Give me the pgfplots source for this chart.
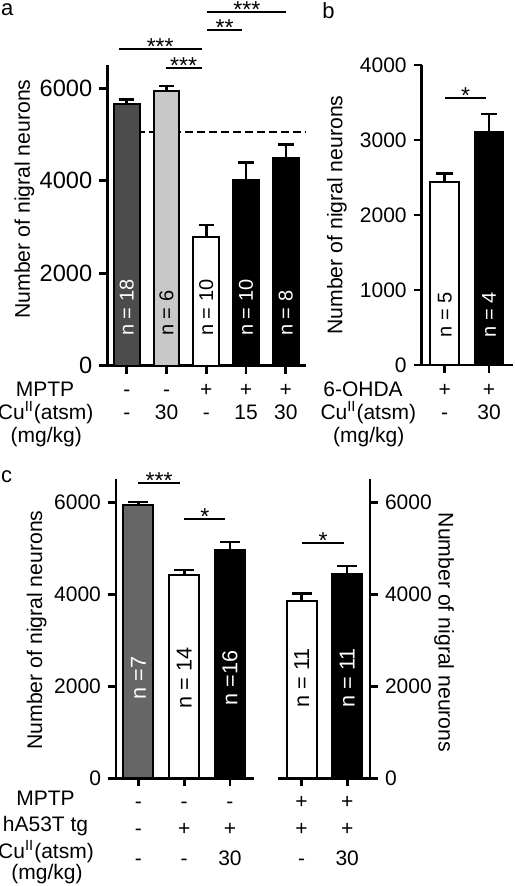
\documentclass[border=0pt]{standalone}
\usepackage{pgfplots}
\pgfplotsset{compat=1.18}
\usepackage{fontspec}
\setmainfont{Liberation Sans}

\definecolor{darkg}{HTML}{4C4C4C}
\definecolor{lightg}{HTML}{C8C8C8}
\definecolor{midg}{HTML}{666666}

\newcommand{\tf}{\fontsize{10.5}{12}\selectfont}
\newcommand{\nf}{\fontsize{10}{12}\selectfont}
\newcommand{\starf}{\fontsize{11.5}{12}\selectfont}

\tikzset{rowtxt/.style={anchor=base, font=\tf, inner sep=0pt, yshift=#1}}

\pgfplotsset{
  panel/.style={
    scale only axis,
    axis x line*=bottom,
    axis y line*=left,
    axis line style={-, line width=1.35pt},
    every tick/.style={black, line width=1.35pt},
    tick align=outside,
    major tick length=4pt,
    ymin=0,
    xticklabels={},
    clip=false,
    /pgf/number format/assume math mode=true,
    /pgf/number format/1000 sep={},
    tick label style={font=\tf},
  },
  bstyle/.style={
    ybar, bar shift=0pt, draw=black, line width=1pt,
    /pgfplots/error bars/y dir=plus,
    /pgfplots/error bars/y explicit,
    /pgfplots/error bars/error bar style={line width=1.3pt, black},
    /pgfplots/error bars/error mark options={rotate=90, line width=1.3pt, black, mark size=#1},
  },
  bstyle/.default=3.85pt,
}

\begin{document}
\begin{tikzpicture}
\useasboundingbox (0,0) rectangle (257pt,-443pt);

% ---------------- panel a ----------------
\begin{axis}[panel, at={(53.65pt,-182.85pt)}, anchor=south west,
  width=99.4pt, height=150.3pt, xmin=-0.49, xmax=4.51, ymax=6500,
  xtick={0,1,2,3,4}, ytick={0,2000,4000,6000},
  tick label style={font=\fontsize{11.8}{13}\selectfont}]
\addplot[black, line width=1pt, dash pattern=on 4pt off 2pt] coordinates {(-0.35,5060) (4.51,5060)};
\addplot[fill=darkg, bar width=12.85pt, bstyle] coordinates {(0,5650) +- (0,100)};
\addplot[fill=lightg, bar width=12.85pt, bstyle] coordinates {(1,5930) +- (0,120)};
\addplot[fill=white, bar width=12.85pt, bstyle] coordinates {(2,2780) +- (0,260)};
\addplot[fill=black, bar width=12.85pt, bstyle] coordinates {(3,4010) +- (0,390)};
\addplot[fill=black, bar width=12.85pt, bstyle] coordinates {(4,4490) +- (0,290)};
% n labels
\node[rotate=90, anchor=west, inner sep=0pt, font=\nf, text=white] at (axis cs:0,640) {n = 18};
\node[rotate=90, anchor=west, inner sep=0pt, font=\nf, text=black] at (axis cs:1,640) {n = 6};
\node[rotate=90, anchor=west, inner sep=0pt, font=\nf, text=black] at (axis cs:2,640) {n = 10};
\node[rotate=90, anchor=west, inner sep=0pt, font=\nf, text=white] at (axis cs:3,640) {n = 10};
\node[rotate=90, anchor=west, inner sep=0pt, font=\nf, text=white] at (axis cs:4,640) {n = 8};
% significance
\draw[line width=1pt] (axis cs:-0.19,6839) -- (axis cs:1.88,6839);
\node[anchor=base, font=\starf, inner sep=0pt] at (axis cs:0.84,6720) {***};
\draw[line width=1pt] (axis cs:0.98,6429) -- (axis cs:1.88,6429);
\node[anchor=base, font=\starf, inner sep=0pt] at (axis cs:1.43,6310) {***};
\draw[line width=1pt] (axis cs:2.03,7257) -- (axis cs:2.89,7257);
\node[anchor=base, font=\starf, inner sep=0pt] at (axis cs:2.46,7138) {**};
\draw[line width=1pt] (axis cs:2.03,7653) -- (axis cs:4.01,7653);
\node[anchor=base, font=\starf, inner sep=0pt] at (axis cs:3.02,7534) {***};
% condition rows
\node[rowtxt=-15.4pt] at (axis cs:0,0) {-};
\node[rowtxt=-15.4pt] at (axis cs:1,0) {-};
\node[rowtxt=-15.4pt] at (axis cs:2,0) {+};
\node[rowtxt=-15.4pt] at (axis cs:3,0) {+};
\node[rowtxt=-15.4pt] at (axis cs:4,0) {+};
\node[rowtxt=-27.15pt] at (axis cs:0,0) {-};
\node[rowtxt=-27.15pt] at (axis cs:1,0) {30};
\node[rowtxt=-27.15pt] at (axis cs:2,0) {-};
\node[rowtxt=-27.15pt] at (axis cs:3,0) {15};
\node[rowtxt=-27.15pt] at (axis cs:4,0) {30};
\end{axis}

% ---------------- panel b ----------------
\begin{axis}[panel, at={(210.85pt,-182.5pt)}, anchor=south west,
  width=45.4pt, height=150pt, xmin=-0.52, xmax=1.53, ymax=4000,
  xtick={0,1}, ytick={0,1000,2000,3000,4000}]
\addplot[fill=white, bar width=14.35pt, bstyle=4.2pt] coordinates {(0,2445) +- (0,110)};
\addplot[fill=black, bar width=14.35pt, bstyle=4.2pt] coordinates {(1,3100) +- (0,245)};
\node[rotate=90, anchor=west, inner sep=0pt, font=\nf, text=black] at (axis cs:0,360) {n = 5};
\node[rotate=90, anchor=west, inner sep=0pt, font=\nf, text=white] at (axis cs:1,360) {n = 4};
\draw[line width=1pt] (axis cs:0,3564) -- (axis cs:0.94,3564);
\node[anchor=base, font=\starf, inner sep=0pt] at (axis cs:0.47,3490) {*};
\node[rowtxt=-16pt] at (axis cs:0,0) {+};
\node[rowtxt=-16pt] at (axis cs:1,0) {+};
\node[rowtxt=-27.15pt] at (axis cs:0,0) {-};
\node[rowtxt=-27.15pt] at (axis cs:1,0) {30};
\end{axis}

% ---------------- panel c (left) ----------------
\begin{axis}[panel, at={(58pt,-389.15pt)}, anchor=south west,
  width=68.9pt, height=149.5pt, xmin=-0.49, xmax=2.52, ymax=6500,
  xtick={0,1,2}, ytick={0,2000,4000,6000}]
\addplot[fill=midg, bar width=15pt, bstyle=5pt] coordinates {(0,5940) +- (0,70)};
\addplot[fill=white, bar width=15pt, bstyle=5pt] coordinates {(1,4420) +- (0,110)};
\addplot[fill=black, bar width=15pt, bstyle=5pt] coordinates {(2,4960) +- (0,175)};
\node[rotate=90, anchor=center, inner sep=0pt, font=\fontsize{10.8}{12}\selectfont, text=white] at (axis cs:0,2180) {n =7};
\node[rotate=90, anchor=center, inner sep=0pt, font=\fontsize{10.8}{12}\selectfont, text=black] at (axis cs:1,2180) {n = 14};
\node[rotate=90, anchor=center, inner sep=0pt, font=\fontsize{10.8}{12}\selectfont, text=white] at (axis cs:2,2180) {n =16};
\draw[line width=1pt] (axis cs:0,6426) -- (axis cs:0.9,6426);
\node[anchor=base, font=\starf, inner sep=0pt] at (axis cs:0.45,6307) {***};
\draw[line width=1pt] (axis cs:1.0,5630) -- (axis cs:1.89,5630);
\node[anchor=base, font=\starf, inner sep=0pt] at (axis cs:1.45,5511) {*};
\node[rowtxt=-14.85pt] at (axis cs:0,0) {-};
\node[rowtxt=-14.85pt] at (axis cs:1,0) {-};
\node[rowtxt=-14.85pt] at (axis cs:2,0) {-};
\node[rowtxt=-28.35pt] at (axis cs:0,0) {-};
\node[rowtxt=-28.35pt] at (axis cs:1,0) {+};
\node[rowtxt=-28.35pt] at (axis cs:2,0) {+};
\node[rowtxt=-43.35pt] at (axis cs:0,0) {-};
\node[rowtxt=-43.35pt] at (axis cs:1,0) {-};
\node[rowtxt=-43.35pt] at (axis cs:2,0) {30};
\end{axis}

% ---------------- panel c (right) ----------------
\begin{axis}[panel, axis y line*=right, at={(139.15pt,-389.15pt)}, anchor=south west,
  width=45.85pt, height=149.5pt, xmin=-0.51, xmax=1.5, ymax=6500,
  xtick={0,1}, ytick={0,2000,4000,6000}]
\addplot[fill=white, bar width=15pt, bstyle=5pt] coordinates {(0,3855) +- (0,165)};
\addplot[fill=black, bar width=15pt, bstyle=5pt] coordinates {(1,4435) +- (0,180)};
\node[rotate=90, anchor=center, inner sep=0pt, font=\fontsize{10.8}{12}\selectfont, text=black] at (axis cs:0,2180) {n = 11};
\node[rotate=90, anchor=center, inner sep=0pt, font=\fontsize{10.8}{12}\selectfont, text=white] at (axis cs:1,2180) {n = 11};
\draw[line width=1pt] (axis cs:0.01,5115) -- (axis cs:0.93,5115);
\node[anchor=base, font=\starf, inner sep=0pt] at (axis cs:0.47,4996) {*};
\node[rowtxt=-14.85pt] at (axis cs:0,0) {+};
\node[rowtxt=-14.85pt] at (axis cs:1,0) {+};
\node[rowtxt=-28.35pt] at (axis cs:0,0) {+};
\node[rowtxt=-28.35pt] at (axis cs:1,0) {+};
\node[rowtxt=-43.35pt] at (axis cs:0,0) {-};
\node[rowtxt=-43.35pt] at (axis cs:1,0) {30};
\end{axis}

% ---------------- labels ----------------
\node[anchor=base, font=\fontsize{11}{12}\selectfont, inner sep=0pt] at (3.6pt,-8pt) {a};
\node[anchor=base, font=\fontsize{11}{12}\selectfont, inner sep=0pt] at (164.25pt,-9.15pt) {b};
\node[anchor=base, font=\fontsize{11}{12}\selectfont, inner sep=0pt] at (3.3pt,-241.35pt) {c};

\node[rotate=90, font=\fontsize{10.6}{12}\selectfont, inner sep=0pt] at (12.25pt,-99.5pt) {Number of nigral neurons};
\node[rotate=90, font=\fontsize{10.6}{12}\selectfont, inner sep=0pt] at (168.5pt,-107.5pt) {Number of nigral neurons};
\node[rotate=90, font=\fontsize{10.6}{12}\selectfont, inner sep=0pt] at (18.35pt,-315pt) {Number of nigral neurons};
\node[rotate=-90, font=\fontsize{10.6}{12}\selectfont, inner sep=0pt] at (222pt,-316.25pt) {Number of nigral neurons};

\node[anchor=base, font=\tf, inner sep=0pt] at (22.5pt,-198.25pt) {MPTP};
\node[anchor=base, font=\tf, inner sep=0pt] at (22.85pt,-209.5pt) {Cu\textsuperscript{II}(atsm)};
\node[anchor=base, font=\tf, inner sep=0pt] at (23.15pt,-221pt) {(mg/kg)};

\node[anchor=base, font=\tf, inner sep=0pt] at (181.5pt,-198.5pt) {6-OHDA};
\node[anchor=base, font=\tf, inner sep=0pt] at (184.15pt,-209.65pt) {Cu\textsuperscript{II}(atsm)};
\node[anchor=base, font=\tf, inner sep=0pt] at (184.4pt,-221.5pt) {(mg/kg)};

\node[anchor=base, font=\tf, inner sep=0pt] at (22.75pt,-402.5pt) {MPTP};
\node[anchor=base, font=\tf, inner sep=0pt] at (22.75pt,-415.75pt) {hA53T tg};
\node[anchor=base, font=\tf, inner sep=0pt] at (23pt,-429.25pt) {Cu\textsuperscript{II}(atsm)};
\node[anchor=base, font=\tf, inner sep=0pt] at (23.5pt,-439.5pt) {(mg/kg)};
\end{tikzpicture}
\end{document}
